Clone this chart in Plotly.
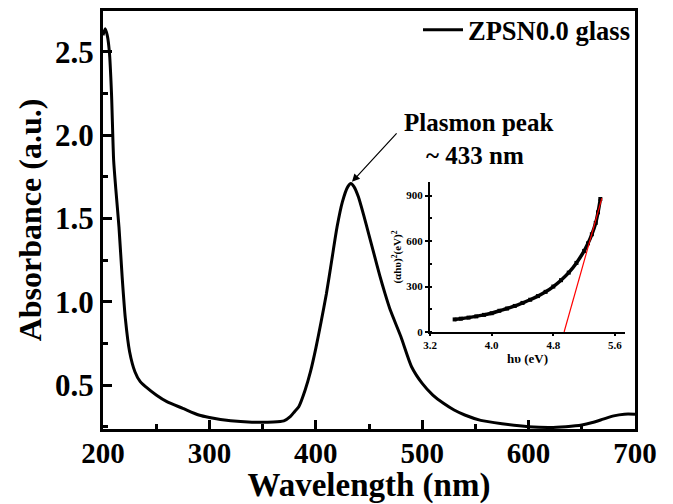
import plotly.graph_objects as go

# ---- main spectrum ----
wavelength = [200, 202, 204, 206, 208, 210, 212, 215, 218, 221, 225, 230, 235, 240, 250, 260, 275, 290, 300, 320,
              340, 360, 370, 376, 380, 384, 390, 395, 400, 405, 410, 415, 420, 425, 430, 433, 436, 440, 445, 450,
              455, 460, 465, 470, 480, 490, 500, 510, 520, 530, 540, 555, 575, 600, 620, 635, 650, 660, 670, 680,
              690, 700]
absorbance = [2.60, 2.64, 2.60, 2.50, 2.25, 1.85, 1.68, 1.45, 1.15, 0.90, 0.70, 0.58, 0.52, 0.49, 0.44, 0.40, 0.36,
              0.32, 0.305, 0.285, 0.277, 0.278, 0.285, 0.31, 0.34, 0.37, 0.47, 0.58, 0.72, 0.88, 1.05, 1.25, 1.45,
              1.60, 1.69, 1.71, 1.69, 1.63, 1.52, 1.40, 1.28, 1.16, 1.05, 0.95, 0.79, 0.61, 0.51, 0.44, 0.39, 0.35,
              0.32, 0.288, 0.268, 0.25, 0.245, 0.25, 0.26, 0.275, 0.295, 0.315, 0.325, 0.325]

# ---- inset Tauc plot ----
photon_energy = [3.52, 3.6, 3.7, 3.8, 3.9, 4.0, 4.1, 4.2, 4.3, 4.4, 4.5, 4.6, 4.7, 4.8, 4.9, 5.0, 5.1, 5.2, 5.25,
                 5.3, 5.35, 5.38, 5.41]
tauc_values = [83, 88, 95, 103, 113, 124, 140, 155, 172, 192, 213, 237, 265, 300, 342, 392, 456, 535, 585, 645,
               720, 790, 878]
fit_x = [4.94, 5.43]
fit_y = [0, 883]

x_ticks = [200, 300, 400, 500, 600, 700]
y_ticks = [0.5, 1.0, 1.5, 2.0, 2.5]
inset_x_ticks = [3.2, 4.0, 4.8, 5.6]
inset_y_ticks = [0, 300, 600, 900]

FONT = "Liberation Serif"

# plot area in window pixels (page body adds an 8px offset)
PL, PR, PT, PB = 103, 635, 11, 429
OFF = 8
W, H = 673 - OFF, 504 - OFF


def px(xw):
    return (xw - PL) / (PR - PL)


def py(yw):
    return (PB - yw) / (PB - PT)


fig = go.Figure()
fig.add_trace(go.Scatter(x=wavelength, y=absorbance, mode="lines", name="<b>ZPSN0.0 glass</b>",
                         line=dict(color="black", width=3, shape="spline", smoothing=0.6)))
fig.add_trace(go.Scatter(x=photon_energy, y=tauc_values, mode="lines+markers", xaxis="x2", yaxis="y2",
                         showlegend=False, line=dict(color="black", width=3.5, shape="spline"),
                         marker=dict(symbol="square", size=4, color="black")))
fig.add_trace(go.Scatter(x=fit_x, y=fit_y, mode="lines", xaxis="x2", yaxis="y2", showlegend=False,
                         line=dict(color="red", width=1.2)))

tick_font = dict(family=FONT, size=29, color="black")
title_font = dict(family=FONT, size=33, color="black")
inset_tick_font = dict(family=FONT, size=11, color="black")

fig.update_layout(
    width=W, height=H,
    margin=dict(l=PL - OFF, r=W - (PR - OFF), t=PT - OFF, b=H - (PB - OFF), autoexpand=False),
    plot_bgcolor="white", paper_bgcolor="white",
    font=dict(family=FONT, color="black"),
    showlegend=True,
    legend=dict(x=1.0, y=1.012, xanchor="right", yanchor="top", bgcolor="rgba(0,0,0,0)",
                font=dict(family=FONT, size=26.5, color="black"), itemwidth=40),
    xaxis=dict(range=[200, 700], tickvals=x_ticks, ticktext=[f"<b>{v}</b>" for v in x_ticks],
               ticks="inside", ticklen=9, tickwidth=3, tickcolor="black", ticklabelstandoff=-4,
               minor=dict(dtick=50, ticks="inside", ticklen=5, tickwidth=3, tickcolor="black"),
               showline=True, linewidth=3, linecolor="black", mirror=True, showgrid=False, zeroline=False,
               tickfont=tick_font,
               title=dict(text="<b>Wavelength (nm)</b>", font=title_font, standoff=4)),
    yaxis=dict(range=[0.236, 2.746], tickvals=y_ticks, ticktext=[f"<b>{v:.1f}</b>" for v in y_ticks],
               ticks="inside", ticklen=9, tickwidth=3, tickcolor="black",
               minor=dict(dtick=0.25, ticks="inside", ticklen=5, tickwidth=3, tickcolor="black"),
               showline=True, linewidth=3, linecolor="black", mirror=True, showgrid=False, zeroline=False,
               tickfont=dict(family=FONT, size=31, color="black"),
               title=dict(text="<b>Absorbance (a.u.)</b>", font=dict(family=FONT, size=32, color="black"),
                          standoff=4)),
    xaxis2=dict(domain=[px(430), px(625)], anchor="y2", range=[3.2, 5.73], tickvals=inset_x_ticks,
                ticktext=[f"<b>{v:.1f}</b>" for v in inset_x_ticks],
                ticks="outside", ticklen=2, tickwidth=1.5, tickcolor="black",
                showline=True, linewidth=2, linecolor="black", showgrid=False, zeroline=False,
                tickfont=inset_tick_font,
                title=dict(text="<b>h\u03c5 (eV)</b>", font=dict(family=FONT, size=13, color="black"), standoff=3)),
    yaxis2=dict(domain=[py(332), py(182)], anchor="x2", range=[0, 990], tickvals=inset_y_ticks,
                ticktext=[f"<b>{v}</b>" for v in inset_y_ticks],
                ticks="outside", ticklen=3, tickwidth=1.5, tickcolor="black",
                minor=dict(dtick=150, ticks="inside", ticklen=2, tickwidth=1.5, tickcolor="black"),
                showline=True, linewidth=2, linecolor="black", showgrid=False, zeroline=False,
                tickfont=inset_tick_font,
                title=dict(text="<b>(\u03b1h\u03c5)<sup>2</sup>(eV)<sup>2</sup></b>",
                           font=dict(family=FONT, size=11, color="black"), standoff=2)),
)

fig.add_annotation(x=434, y=1.72, xref="x", yref="y", ax=46, ay=-50, text="", showarrow=True,
                   arrowhead=2, arrowsize=1.3, arrowwidth=1.2, arrowcolor="black")
fig.add_annotation(x=px(478), y=py(123), xref="paper", yref="paper", xanchor="center", yanchor="middle",
                   text="<b>Plasmon peak</b>", showarrow=False, font=dict(family=FONT, size=25, color="black"))
fig.add_annotation(x=px(475), y=py(155), xref="paper", yref="paper", xanchor="center", yanchor="middle",
                   text="<b>~ 433 nm</b>", showarrow=False, font=dict(family=FONT, size=25, color="black"))

fig.write_html("out.html")
